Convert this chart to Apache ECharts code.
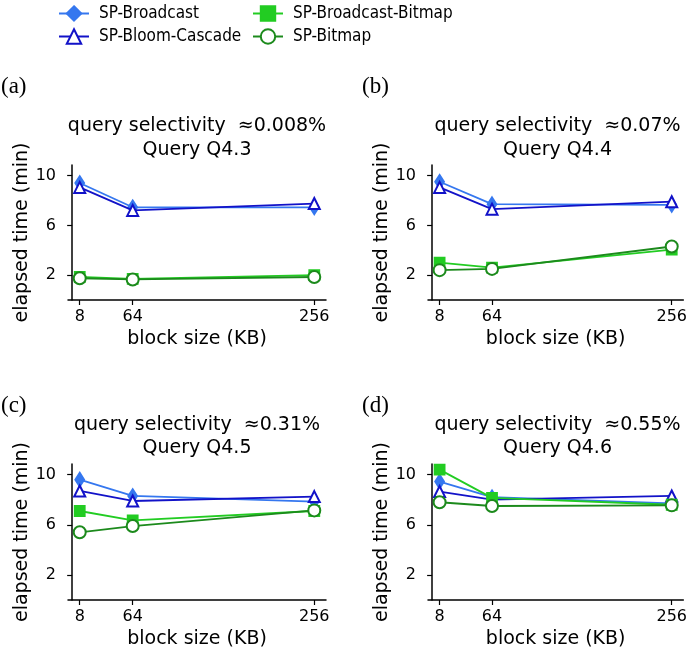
<!DOCTYPE html>
<html><head><meta charset="utf-8">
<script src="https://cdn.jsdelivr.net/npm/echarts@6/dist/echarts.min.js"></script>
<style>html,body{margin:0;padding:0;background:#fff}#c{width:690px;height:653px}</style>
</head><body><div id="c"></div>
<script>
const blockSizes = [8, 64, 256];
const xTicks = [8, 64, 256];
const yTicks = [2, 6, 10];
const panelLabels = ['(a)', '(b)', '(c)', '(d)'];
const selectivity = ['0.008%', '0.07%', '0.31%', '0.55%'];
const queries = ['Q4.3', 'Q4.4', 'Q4.5', 'Q4.6'];
const seriesNames = ['SP-Broadcast', 'SP-Bloom-Cascade', 'SP-Broadcast-Bitmap', 'SP-Bitmap'];

// values per panel (Q4.3, Q4.4, Q4.5, Q4.6)
const spBroadcast      = [[9.4, 7.45, 7.45], [9.5, 7.7, 7.65], [9.6, 8.3, 7.85], [9.45, 8.2, 7.7]];
const spBloomCascade   = [[9.05, 7.2, 7.75], [9.05, 7.3, 7.9], [8.7, 7.9, 8.25], [8.65, 8.0, 8.3]];
const spBroadcastBitmap= [[1.85, 1.7, 2.0], [3.0, 2.6, 4.05], [7.1, 6.35, 7.1], [10.4, 8.15, 7.6]];
const spBitmap         = [[1.75, 1.65, 1.85], [2.4, 2.5, 4.3], [5.4, 5.9, 7.15], [7.8, 7.5, 7.55]];

const allData = [spBroadcast, spBloomCascade, spBroadcastBitmap, spBitmap];
const colors = ['#3577ef', '#1212c8', '#22cc22', '#1c8a1c'];
const symbols = ['diamond', 'emptyTriangle', 'rect', 'emptyCircle'];
const symbolSizes = [[9, 14], 11, 10, 12];

const grids = [
  {left: 68, top: 165, width: 258, height: 135},
  {left: 428, top: 165, width: 259, height: 135},
  {left: 68, top: 464, width: 258, height: 136},
  {left: 428, top: 464, width: 259, height: 136}
];
const titleY = [[126, 150], [126, 150], [425, 448], [425, 448]];
const labelPos = [[1, 87], [362, 87], [1, 406], [362, 406]];

const FONT = 'DejaVu Sans';
const axisLine = {show: true, lineStyle: {color: '#000', width: 1.5}};
const axisTickBase = {show: true, inside: false, length: 5, lineStyle: {color: '#000', width: 1.2}};

const xAxes = [], yAxes = [], series = [], graphics = [];
grids.forEach((g, i) => {
  xAxes.push({
    type: 'value', gridIndex: i, min: -4.4, max: 268.4,
    axisLine, splitLine: {show: false},
    axisTick: Object.assign({}, axisTickBase, {customValues: xTicks}),
    axisLabel: {customValues: xTicks, color: '#000', fontFamily: FONT, fontSize: 16, margin: 9},
    name: 'block size (KB)', nameLocation: 'middle', nameGap: 30,
    nameTextStyle: {color: '#000', fontFamily: FONT, fontSize: 19}
  });
  yAxes.push({
    type: 'value', gridIndex: i, min: 0, max: 10.85,
    axisLine, splitLine: {show: false},
    axisTick: Object.assign({}, axisTickBase, {customValues: yTicks}),
    axisLabel: {customValues: yTicks, color: '#000', fontFamily: FONT, fontSize: 16, margin: 12},
    name: 'elapsed time (min)', nameLocation: 'middle', nameGap: 36,
    nameTextStyle: {color: '#000', fontFamily: FONT, fontSize: 19}
  });
  allData.forEach((arr, s) => {
    series.push({
      type: 'line', name: seriesNames[s], xAxisIndex: i, yAxisIndex: i,
      data: blockSizes.map((b, k) => [b, arr[i][k]]),
      symbol: symbols[s], symbolSize: symbolSizes[s], showSymbol: true,
      color: colors[s],
      lineStyle: {color: colors[s], width: 1.8},
      itemStyle: {color: colors[s], borderColor: colors[s], borderWidth: 1.8},
      z: 2 + s, animation: false
    });
  });
  const cx = g.left + g.width / 2;
  graphics.push({type: 'text', x: cx, y: titleY[i][0], style: {text: 'query selectivity  \u2248' + selectivity[i], font: '19px "DejaVu Sans"', fill: '#000', textAlign: 'center', textVerticalAlign: 'middle'}});
  graphics.push({type: 'text', x: cx, y: titleY[i][1], style: {text: 'Query ' + queries[i], font: '19px "DejaVu Sans"', fill: '#000', textAlign: 'center', textVerticalAlign: 'middle'}});
  graphics.push({type: 'text', x: labelPos[i][0], y: labelPos[i][1], style: {text: panelLabels[i], font: '23px "Liberation Serif"', fill: '#000', textAlign: 'left', textVerticalAlign: 'middle'}});
});

const legendText = {color: '#000', fontFamily: 'DejaVu Sans Condensed', fontSize: 17, padding: [0, 0, 0, 5]};
const option = {
  animation: false,
  grid: grids,
  xAxis: xAxes,
  yAxis: yAxes,
  series,
  graphic: graphics,
  legend: [
    {left: 58, top: 5, padding: 0, orient: 'vertical', itemWidth: 30, itemHeight: 18, itemGap: 6, data: [seriesNames[0], seriesNames[1]], textStyle: legendText},
    {left: 252, top: 5, padding: 0, orient: 'vertical', itemWidth: 30, itemHeight: 18, itemGap: 6, data: [seriesNames[2], seriesNames[3]], textStyle: legendText}
  ]
};
const chart = echarts.init(document.getElementById('c'), null, {renderer: 'canvas'});
chart.setOption(option);
</script>
</body></html>
